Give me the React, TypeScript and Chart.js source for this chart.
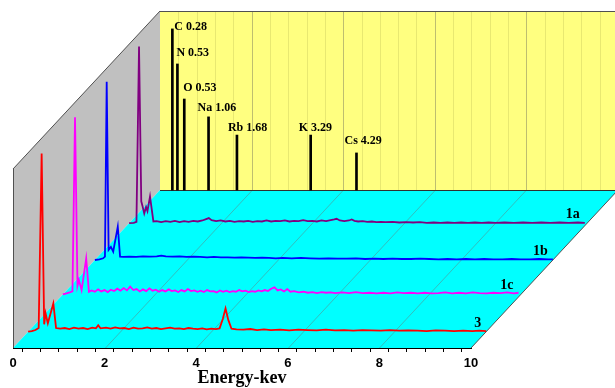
import React, { useEffect, useRef } from 'react';
import { Chart, registerables } from 'chart.js';

Chart.register(...registerables);

// ---------- data ----------
const X_MIN = 0;
const X_MAX = 10;
const X_STEP = 0.4;
const Y_MAX = 100; // intensity, a.u.

const seriesLabels = ['3', '1c', '1b', '1a'];
const seriesColors = ['#FF0000', '#FF00FF', '#0000FF', '#800080'];
// depth of each spectrum between the front axis (0) and the back wall (1)
const seriesDepths = [0.103, 0.339, 0.557, 0.79];

const spectrum3: number[][] = [
  [0, 0], [0.08, 0.2], [0.16, 0.5], [0.23, 1.1], [0.295, 52.9], [0.35, 2.2], [0.38, 5.5], [0.43, 2.5], [0.55, 8.4], [0.61, 1.1],
  [0.7, 0.9], [0.8, 1.1], [0.9, 0.8], [1.0, 1.2], [1.1, 0.9], [1.2, 1.1], [1.3, 0.8], [1.4, 1.2], [1.48, 1.0], [1.53, 1.9], [1.58, 1.0],
  [1.7, 1.2], [1.8, 0.9], [1.9, 1.3], [2.0, 1.0], [2.1, 1.1], [2.2, 0.8], [2.3, 1.2], [2.4, 0.9], [2.5, 1.0], [2.6, 1.3], [2.7, 0.9],
  [2.8, 1.1], [2.9, 0.8], [3.0, 1.0], [3.1, 1.2], [3.2, 0.9], [3.3, 1.0], [3.4, 0.8], [3.5, 1.1], [3.6, 0.9], [3.7, 0.8], [3.8, 1.0],
  [3.9, 0.7], [4.0, 0.9], [4.1, 0.8], [4.18, 1.0], [4.25, 3.8], [4.31, 6.9], [4.37, 3.5], [4.44, 0.9], [4.55, 0.7], [4.7, 0.6],
  [4.85, 0.8], [5.0, 0.5], [5.15, 0.7], [5.3, 0.5], [5.5, 0.6], [5.7, 0.4], [5.9, 0.6], [6.1, 0.5], [6.3, 0.4], [6.5, 0.6], [6.7, 0.4],
  [6.9, 0.5], [7.1, 0.3], [7.3, 0.5], [7.5, 0.4], [7.7, 0.3], [7.9, 0.5], [8.1, 0.3], [8.3, 0.4], [8.5, 0.3], [8.7, 0.2], [8.9, 0.4],
  [9.1, 0.3], [9.3, 0.2], [9.5, 0.3], [9.7, 0.2], [9.85, 0.3], [10, 0.2],
];

const spectrum1c: number[][] = [
  [0, 0], [0.08, 0.3], [0.15, 0.6], [0.21, 0.9], [0.266, 52.6], [0.32, 2.6], [0.35, 4.3], [0.41, 1.3], [0.51, 10.7], [0.57, 0.8],
  [0.63, 1.2], [0.7, 0.8], [0.77, 1.5], [0.84, 0.9], [0.91, 1.3], [0.98, 0.7], [1.05, 1.4], [1.12, 1.0], [1.19, 1.7], [1.26, 1.1],
  [1.33, 1.9], [1.4, 1.2], [1.47, 2.3], [1.54, 1.3], [1.61, 1.6], [1.68, 0.9], [1.75, 1.5], [1.82, 1.0], [1.89, 1.8], [1.96, 1.1],
  [2.03, 1.4], [2.1, 0.8], [2.17, 1.3], [2.24, 0.9], [2.31, 1.5], [2.38, 1.0], [2.45, 1.2], [2.52, 0.7], [2.59, 1.3], [2.66, 0.9],
  [2.73, 1.6], [2.8, 1.0], [2.87, 1.2], [2.94, 0.8], [3.01, 1.1], [3.08, 0.7], [3.15, 1.3], [3.22, 0.9], [3.29, 1.0], [3.36, 0.6],
  [3.43, 1.2], [3.5, 0.8], [3.57, 1.1], [3.64, 0.7], [3.71, 1.0], [3.78, 0.8], [3.85, 1.3], [3.92, 0.9], [3.99, 1.1], [4.06, 0.7],
  [4.13, 1.0], [4.2, 0.8], [4.27, 1.2], [4.34, 0.9], [4.41, 1.3], [4.48, 1.0], [4.55, 1.7], [4.62, 2.1], [4.69, 1.2], [4.76, 1.5],
  [4.83, 0.9], [4.9, 1.6], [4.97, 0.8], [5.05, 1.0], [5.15, 0.6], [5.25, 0.8], [5.35, 0.5], [5.45, 0.7], [5.55, 0.4], [5.65, 0.7],
  [5.75, 0.5], [5.85, 0.6], [5.95, 0.4], [6.1, 0.6], [6.25, 0.4], [6.4, 0.7], [6.55, 0.4], [6.7, 0.5], [6.85, 0.3], [7.0, 0.5],
  [7.15, 0.3], [7.3, 0.6], [7.45, 0.4], [7.6, 0.5], [7.75, 0.3], [7.9, 0.5], [8.05, 0.3], [8.2, 0.4], [8.35, 0.6], [8.5, 0.3],
  [8.65, 0.5], [8.8, 0.3], [8.95, 0.6], [9.1, 0.4], [9.25, 0.3], [9.4, 0.5], [9.55, 0.4], [9.7, 0.6], [9.85, 0.3], [9.95, 0.5],
];

const spectrum1b: number[][] = [
  [0, 0], [0.1, 0.2], [0.18, 0.5], [0.22, 1.0], [0.258, 52.9], [0.3, 3.0], [0.35, 3.9], [0.4, 2.5], [0.5, 9.9], [0.55, 1.0],
  [0.62, 0.9], [0.75, 1.0], [0.9, 0.9], [1.05, 1.1], [1.2, 1.0], [1.35, 1.1], [1.45, 1.3], [1.55, 1.1], [1.7, 1.0], [1.85, 1.1],
  [2.0, 0.9], [2.15, 1.0], [2.3, 0.9], [2.45, 0.8], [2.6, 0.9], [2.75, 0.8], [2.9, 0.8], [3.05, 0.7], [3.2, 0.8], [3.35, 0.7],
  [3.5, 0.6], [3.65, 0.7], [3.8, 0.6], [3.95, 0.5], [4.1, 0.6], [4.3, 0.5], [4.5, 0.6], [4.7, 0.5], [4.9, 0.4], [5.1, 0.5],
  [5.3, 0.4], [5.5, 0.4], [5.7, 0.5], [5.9, 0.3], [6.1, 0.4], [6.3, 0.3], [6.5, 0.4], [6.7, 0.3], [6.9, 0.3], [7.1, 0.4],
  [7.3, 0.3], [7.5, 0.2], [7.7, 0.3], [7.9, 0.2], [8.1, 0.3], [8.3, 0.2], [8.5, 0.3], [8.7, 0.2], [8.9, 0.2], [9.1, 0.3],
  [9.3, 0.2], [9.5, 0.2], [9.7, 0.3], [9.9, 0.2], [10, 0.2],
];

const spectrum1a: number[][] = [
  [0, 0], [0.1, 0.1], [0.16, 0.4], [0.216, 52.4], [0.265, 6.5], [0.29, 5.2], [0.33, 2.9], [0.37, 4.8], [0.4, 3.6], [0.456, 7.9],
  [0.53, 0.5], [0.6, 0.6], [0.7, 0.3], [0.8, 0.6], [0.9, 0.4], [1.0, 0.7], [1.1, 0.3], [1.2, 0.6], [1.3, 0.4], [1.4, 0.7],
  [1.5, 0.5], [1.6, 0.8], [1.68, 1.2], [1.74, 1.5], [1.8, 0.9], [1.9, 0.6], [2.0, 0.8], [2.1, 0.5], [2.2, 0.7], [2.3, 0.4],
  [2.4, 0.6], [2.5, 0.5], [2.6, 0.7], [2.7, 0.4], [2.8, 0.6], [2.9, 0.5], [3.0, 0.8], [3.1, 0.5], [3.2, 0.7], [3.3, 0.6],
  [3.4, 0.8], [3.5, 0.5], [3.6, 0.7], [3.7, 0.6], [3.8, 0.9], [3.9, 0.6], [4.0, 0.7], [4.1, 0.5], [4.2, 0.8], [4.3, 0.6],
  [4.4, 0.9], [4.48, 1.1], [4.53, 1.3], [4.6, 0.8], [4.7, 0.6], [4.8, 0.8], [4.86, 1.1], [4.92, 0.7], [5.0, 0.5], [5.1, 0.6],
  [5.2, 0.4], [5.3, 0.5], [5.4, 0.3], [5.5, 0.4], [5.6, 0.3], [5.75, 0.4], [5.9, 0.2], [6.05, 0.3], [6.2, 0.2], [6.35, 0.3],
  [6.5, 0.1], [6.65, 0.2], [6.8, 0.1], [6.95, 0.2], [7.1, 0.1], [7.25, 0.2], [7.4, 0.1], [7.55, 0.2], [7.7, 0.1], [7.85, 0.2],
  [8.0, 0.1], [8.2, 0.2], [8.4, 0.1], [8.6, 0.2], [8.8, 0.1], [9.0, 0.2], [9.2, 0.1], [9.4, 0.2], [9.6, 0.1], [9.8, 0.2], [9.95, 0.1],
];

const spectra = [spectrum3, spectrum1c, spectrum1b, spectrum1a];

// reference element lines on the back wall
const elementNames = ['C 0.28', 'N 0.53', 'O 0.53', 'Na 1.06', 'Rb 1.68', 'K 3.29', 'Cs 4.29'];
const elementEnergies = [0.27, 0.38, 0.53, 1.06, 1.68, 3.29, 4.29];
const elementHeights = [47.8, 37.4, 27.0, 21.7, 16.3, 16.3, 11.0];

// ---------- layout / style ----------
const DEPTH_DX = 147; // px shift of the back wall (depth = 1)
const DEPTH_DY = -158;
const BACK_DEPTH = 1;
const labelNudge = [[2, -2], [-1, -11], [-1, -11], [-11, -9], [-9, -7], [-12, -7], [-12, -12]];

const WALL_GRAY = '#C0C0C0';
const WALL_YELLOW = '#FFFF80';
const FLOOR_CYAN = '#00FFFF';
const EDGE = '#505050';

function poly(ctx: CanvasRenderingContext2D, pts: number[][], fill: string) {
  ctx.beginPath();
  ctx.moveTo(pts[0][0], pts[0][1]);
  for (let i = 1; i < pts.length; i++) ctx.lineTo(pts[i][0], pts[i][1]);
  ctx.closePath();
  ctx.fillStyle = fill;
  ctx.fill();
}
function seg(ctx: CanvasRenderingContext2D, x1: number, y1: number, x2: number, y2: number, color: string, w = 1) {
  ctx.beginPath();
  ctx.moveTo(x1, y1);
  ctx.lineTo(x2, y2);
  ctx.strokeStyle = color;
  ctx.lineWidth = w;
  ctx.stroke();
}
const isMajor = (v: number) => Math.abs(v / 2 - Math.round(v / 2)) < 1e-6;

const depthPlugin = {
  id: 'depth3d',
  beforeDraw(chart: any) {
    const { ctx, chartArea, scales } = chart;
    const xs = scales.x;
    const ys = scales.y;
    const L = xs.getPixelForValue(X_MIN);
    const R = xs.getPixelForValue(X_MAX);
    const B = ys.getPixelForValue(0);
    const T = chartArea.top;
    const dx = DEPTH_DX;
    const dy = DEPTH_DY;
    ctx.save();
    poly(ctx, [[L, B], [L, T - dy], [L + dx, T], [L + dx, B + dy]], WALL_GRAY);
    poly(ctx, [[L + dx, T], [R + dx, T], [R + dx, B + dy], [L + dx, B + dy]], WALL_YELLOW);
    poly(ctx, [[L, B], [R, B], [R + dx, B + dy], [L + dx, B + dy]], FLOOR_CYAN);
    // grid on back wall and floor
    xs.ticks.forEach((t: any) => {
      const v = t.value;
      if (v <= X_MIN + 1e-6 || v >= X_MAX - 1e-6) return;
      const p = Math.round(xs.getPixelForValue(v)) + 0.5;
      const major = isMajor(v);
      seg(ctx, p + dx, T, p + dx, B + dy, major ? 'rgba(110,110,90,0.45)' : 'rgba(150,150,60,0.22)');
      if (major) seg(ctx, p, B, p + dx, B + dy, 'rgba(110,110,110,0.45)');
    });
    // edges
    seg(ctx, L + 0.5, B, L + 0.5, T - dy, EDGE);
    seg(ctx, L, T - dy, L + dx, T, EDGE);
    seg(ctx, L + dx, T + 0.5, R + dx, T + 0.5, EDGE);
    seg(ctx, R, B, R + dx, B + dy, EDGE);
    seg(ctx, L + dx, B + dy + 0.5, R + dx, B + dy + 0.5, '#303030');
    ctx.restore();
  },
  beforeDatasetDraw(chart: any, args: any) {
    const z = chart.data.datasets[args.index].depth || 0;
    chart.ctx.save();
    chart.ctx.translate(z * DEPTH_DX, z * DEPTH_DY);
  },
  afterDatasetDraw(chart: any) {
    chart.ctx.restore();
  },
  afterDatasetsDraw(chart: any) {
    const { ctx, scales } = chart;
    const zeroY = scales.y.getPixelForValue(0);
    ctx.save();
    ctx.fillStyle = '#000';
    chart.data.datasets.forEach((ds: any, i: number) => {
      const meta = chart.getDatasetMeta(i);
      const z = ds.depth || 0;
      const ox = z * DEPTH_DX;
      const oy = z * DEPTH_DY;
      if (ds.type === 'bar') {
        ctx.font = 'bold 12px "Liberation Serif", "Times New Roman", serif';
        ctx.textAlign = 'left';
        ctx.textBaseline = 'middle';
        meta.data.forEach((el: any, j: number) => {
          const n = labelNudge[j] || [0, -8];
          ctx.fillText(elementNames[j], el.x + ox + n[0], el.y + oy + n[1]);
        });
      } else {
        const last = meta.data[meta.data.length - 1];
        ctx.font = 'bold 14px "Liberation Serif", "Times New Roman", serif';
        ctx.textAlign = 'right';
        ctx.textBaseline = 'alphabetic';
        ctx.fillText(ds.label, last.x + ox - 5, zeroY + oy - 5);
      }
    });
    ctx.restore();
  },
};

export default function App() {
  const ref = useRef<HTMLCanvasElement>(null);
  useEffect(() => {
    const lineSets = spectra.map((s, i) => ({
      type: 'line' as const,
      label: seriesLabels[i],
      depth: seriesDepths[i],
      data: s.map((p) => ({ x: p[0], y: p[1] })),
      borderColor: seriesColors[i],
      borderWidth: 1.8,
      pointRadius: 0,
      tension: 0,
      fill: false,
      clip: false as any,
    }));
    const barSet = {
      type: 'bar' as const,
      label: 'elements',
      depth: BACK_DEPTH,
      data: elementEnergies.map((e, i) => ({ x: e, y: elementHeights[i] })),
      backgroundColor: '#000',
      borderWidth: 0,
      barThickness: 2,
      clip: false as any,
    };
    const chart = new Chart(ref.current as HTMLCanvasElement, {
      type: 'line',
      data: { datasets: [...lineSets, barSet] as any },
      options: {
        animation: false,
        responsive: true,
        maintainAspectRatio: false,
        layout: { padding: { left: 13, right: 144, top: 11, bottom: 0 } },
        plugins: { legend: { display: false }, tooltip: { enabled: false } },
        events: [],
        scales: {
          x: {
            type: 'linear',
            min: X_MIN,
            max: X_MAX,
            offset: false,
            afterFit: (scale: any) => {
              scale.height = 40;
            },
            ticks: {
              stepSize: X_STEP,
              autoSkip: false,
              maxRotation: 0,
              padding: 4,
              color: '#000',
              font: { family: '"Liberation Sans", Arial, sans-serif', size: 13, weight: 'bold' },
              callback: (v: any) => (isMajor(Number(v)) ? String(Math.round(Number(v))) : ''),
            },
            grid: { display: true, drawOnChartArea: false, drawTicks: true, tickLength: 4, tickColor: '#000', tickWidth: 1 },
            border: { display: true, color: '#000', width: 1 },
            title: {
              display: true,
              text: 'Energy-kev',
              color: '#000',
              font: { family: '"Liberation Serif", "Times New Roman", serif', size: 18, weight: 'bold', lineHeight: 1 },
              padding: { top: 0, bottom: 0.5 },
            },
          },
          y: { type: 'linear', min: 0, max: Y_MAX, display: false },
        },
      } as any,
      plugins: [depthPlugin as any],
    });
    return () => chart.destroy();
  }, []);
  return (
    <div style={{ position: 'fixed', left: 0, top: 0, width: 615, height: 388, background: '#fff' }}>
      <canvas ref={ref} />
    </div>
  );
}
